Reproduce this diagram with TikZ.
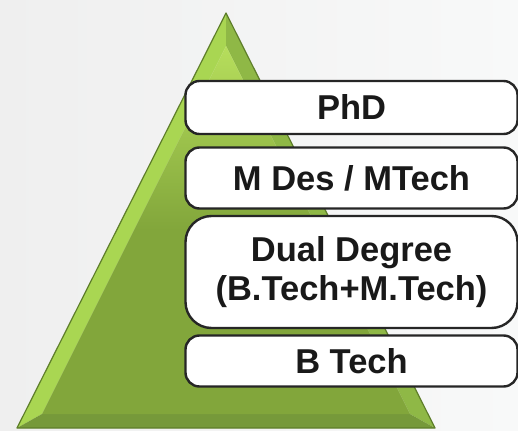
\documentclass[tikz,border=0pt]{standalone}
\usepackage{fontspec}
\setmainfont{Liberation Sans}
\begin{document}
\begin{tikzpicture}[x=1pt,y=-1pt,
  lvl/.style={draw=black!85, line width=2.4pt, fill=white, rounded corners=14pt, font=\bfseries\fontsize{34.5}{39}\selectfont, text=black!90, align=center, inner sep=0pt},
]
\definecolor{bgA}{HTML}{EFEFEF}
\definecolor{bgB}{HTML}{F8F9F9}
\definecolor{gOut}{HTML}{5E7E2A}
\definecolor{gBody}{HTML}{82A63B}
\definecolor{gTop}{HTML}{B6DE5C}
\definecolor{gLeft}{HTML}{A9D652}
\definecolor{gRight}{HTML}{8FB846}
\definecolor{gBot}{HTML}{76993A}
% background
\shade[left color=bgA, right color=bgB] (0,0) rectangle (518,430);
\useasboundingbox (0,0) rectangle (518,430);
% pyramid
\coordinate (A) at (226,13);
\coordinate (B) at (17,428);
\coordinate (C) at (435,428);
\coordinate (a) at (226,46);
\coordinate (b) at (42,414);
\coordinate (c) at (410,414);
\fill[gLeft] (A) -- (B) -- (b) -- (a) -- cycle;
\fill[gRight] (A) -- (a) -- (c) -- (C) -- cycle;
\fill[gBot] (B) -- (C) -- (c) -- (b) -- cycle;
\shade[top color=gTop, bottom color=gBody, middle color=gBody] (a) -- (b) -- (c) -- cycle;
\draw[gOut, line width=1.2pt, line join=round] (A) -- (B) -- (C) -- cycle;
% boxes
\node[lvl, minimum width=332pt, minimum height=53pt] (phd) at (351.5,107.5) {PhD};
\node[lvl, minimum width=332pt, minimum height=61pt] (mdes) at (351.5,178) {M Des / MTech};
\node[lvl, minimum width=332pt, minimum height=112pt, rounded corners=26pt] (dual) at (351.5,272) {Dual Degree\\(B.Tech+M.Tech)};
\node[lvl, minimum width=332pt, minimum height=51pt] (btech) at (351.5,361) {B Tech};
\end{tikzpicture}
\end{document}
